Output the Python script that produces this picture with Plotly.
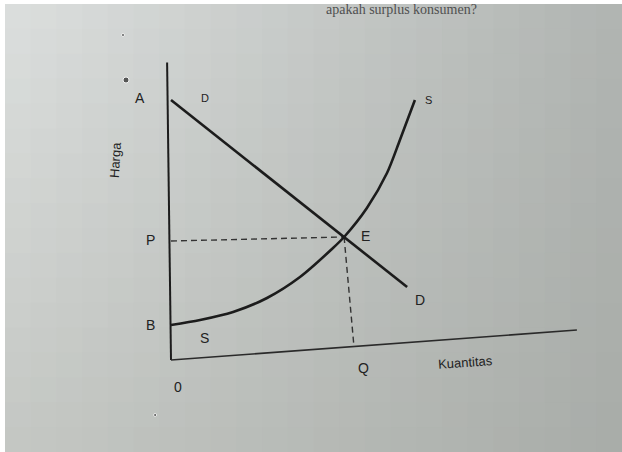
import plotly.graph_objects as go

# demand line D (A -> D)
demand_q = [0.0, 7.87]
demand_p = [10.4, 2.92]

# supply curve S (B -> S)
supply_q = [0.0, 0.97, 2.07, 3.2, 4.3, 5.4, 5.77, 6.53, 7.2, 7.63, 8.13]
supply_p = [1.4, 1.6, 1.92, 2.48, 3.32, 4.48, 4.92, 6.08, 7.48, 8.8, 10.4]

# equilibrium E and the dashed guides to P and Q
eq_q, eq_p = 5.77, 4.92
p_guide_q = [0.0, eq_q]
p_guide_p = [4.76, eq_p]
q_guide_q = [eq_q, 6.1]
q_guide_p = [eq_p, 0.52]

# axes as drawn (the page is photographed slightly skewed)
yaxis_q = [-0.13, 0.0]
yaxis_p = [11.9, 0.0]
xaxis_q = [0.0, 13.53]
xaxis_p = [0.0, 1.2]

# point labels
label_text = ['A', 'D', 'S', 'E', 'P', 'D', 'B', 'S', 'Q', '0']
label_q = [-1.03, 1.13, 8.57, 6.47, -0.7, 8.3, -0.7, 1.13, 6.4, 0.23]
label_p = [10.5, 10.5, 10.4, 4.96, 4.8, 2.4, 1.4, 0.88, -0.32, -1.08]

# specks of ink on the page
speck_q = [-1.5, -1.6, -0.53]
speck_p = [11.2, 13.0, -2.2]
speck_size = [6, 3, 3]

INK = '#1c1c1c'
FONT = 'Liberation Sans, Arial'

traces = [
    go.Scatter(x=speck_q, y=speck_p, mode='markers',
               marker={'color': '#222', 'size': speck_size}),
    go.Scatter(x=yaxis_q, y=yaxis_p, mode='lines', line={'color': INK, 'width': 2}),
    go.Scatter(x=xaxis_q, y=xaxis_p, mode='lines', line={'color': '#2a2a2a', 'width': 1.6}),
    go.Scatter(x=p_guide_q, y=p_guide_p, mode='lines',
               line={'color': '#333', 'width': 1.4, 'dash': '6px,4px'}),
    go.Scatter(x=q_guide_q, y=q_guide_p, mode='lines',
               line={'color': '#333', 'width': 1.4, 'dash': '6px,4px'}),
    go.Scatter(x=demand_q, y=demand_p, mode='lines', line={'color': INK, 'width': 2.6}),
    go.Scatter(x=supply_q, y=supply_p, mode='lines',
               line={'color': INK, 'width': 2.6, 'shape': 'spline', 'smoothing': 0.8}),
]

annotations = []
for t, q, p in zip(label_text, label_q, label_p):
    size = 11 if t in ('S', 'D') and p > 10 else 14
    annotations.append(dict(x=q, y=p, text=t, showarrow=False,
                            font={'family': FONT, 'size': size, 'color': '#222'}))

annotations += [
    dict(x=-1.87, y=8.0, text='Harga', showarrow=False, textangle=-86,
         font={'family': FONT, 'size': 13, 'color': '#222'}),
    dict(x=9.8, y=-0.08, text='Kuantitas', showarrow=False, textangle=-4,
         font={'family': FONT, 'size': 13, 'color': '#222'}),
    # faded question at the top edge of the page
    dict(x=0.645, y=1.0, xref='paper', yref='paper', text='apakah surplus konsumen?',
         showarrow=False, xanchor='center', yanchor='top', yshift=0,
         font={'family': 'Liberation Serif, Times New Roman', 'size': 14, 'color': '#505050'}),
]


# photographed page: a soft shading, lighter at the top left
def _mix(c0, c1, t):
    return [a + (b - a) * t for a, b in zip(c0, c1)]


TL, TR = (220, 223, 222), (176, 180, 177)
BL, BR = (196, 199, 195), (168, 172, 168)
NX, NY = 24, 18
x_left, y_top = 5 / 622, 1 - 4 / 452
shapes = [
    # unphotographed white margins top and left
    dict(type='rect', xref='paper', yref='paper', x0=0, x1=1, y0=y_top, y1=1.01,
         fillcolor='white', line={'width': 0}, layer='below'),
    dict(type='rect', xref='paper', yref='paper', x0=-0.01, x1=x_left, y0=-0.01, y1=1.01,
         fillcolor='white', line={'width': 0}, layer='below'),
]
for i in range(NX):
    for j in range(NY):
        tx = (i + 0.5) / NX
        ty = (j + 0.5) / NY
        top = _mix(TL, TR, tx)
        bottom = _mix(BL, BR, tx)
        r, g, b = _mix(top, bottom, ty)
        shapes.append(dict(
            type='rect', xref='paper', yref='paper',
            x0=x_left + (1 - x_left) * i / NX,
            x1=x_left + (1 - x_left) * (i + 1) / NX + (0.002 if i < NX - 1 else 0.01),
            y1=y_top - y_top * j / NY,
            y0=y_top - y_top * (j + 1) / NY - (0.002 if j < NY - 1 else 0.01),
            fillcolor='rgb({:.0f},{:.0f},{:.0f})'.format(r, g, b),
            line={'width': 0}, layer='below'))

layout = go.Layout(
    width=622, height=452,
    margin={'l': 0, 'r': 0, 't': 0, 'b': 0},
    paper_bgcolor='rgb(182,185,181)',
    plot_bgcolor='rgba(0,0,0,0)',
    showlegend=False,
    xaxis={'range': [-5.7, 15.033], 'visible': False, 'fixedrange': True},
    yaxis={'range': [-3.68, 14.4], 'visible': False, 'fixedrange': True},
    annotations=annotations,
    shapes=shapes,
)

fig = go.Figure(data=traces, layout=layout)
fig.write_html('out.html', config={'displayModeBar': False},
               post_script="document.body.style.margin='0';document.body.style.overflow='hidden';")
